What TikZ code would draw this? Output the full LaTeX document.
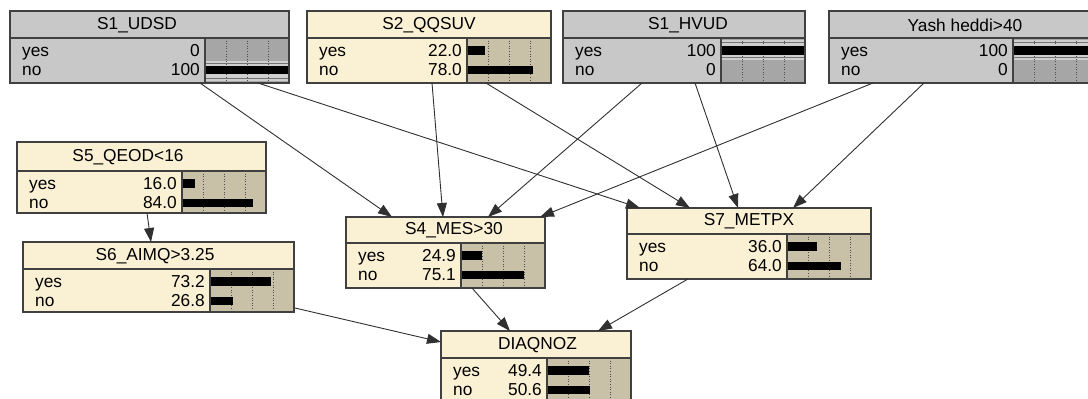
\documentclass[tikz,border=0pt]{standalone}
\usepackage{fontspec}
\setmainfont{Liberation Sans}
\usetikzlibrary{arrows.meta,calc}

\definecolor{crbody}{HTML}{FAF0D4}
\definecolor{crchart}{HTML}{C9C0A8}
\definecolor{grbody}{HTML}{C8C8C8}
\definecolor{grchart}{HTML}{A6A6A6}
\definecolor{grband}{HTML}{CFCFCF}
\definecolor{edgecol}{HTML}{404040}
\definecolor{linkcol}{HTML}{303030}

\tikzset{
  boxedge/.style={draw=edgecol, line width=1.2pt},
  gridline/.style={draw=black!70, line width=0.6pt, dotted},
  bandline/.style={draw=black!55, line width=0.7pt},
  lbl/.style={inner sep=0pt, font=\fontsize{17.3}{18}\selectfont},
  link/.style={draw=linkcol, line width=0.9pt, -{Triangle[length=14pt,width=10pt]}},
}

% Frame of a belief box: name, colour set, left, top, right, bottom, title rule, title, title shift
\newcommand{\bnode}[9]{%
  \def\bnName{#1}\def\bnLeft{#3}\def\bnTop{#4}\def\bnRight{#5}\def\bnBot{#6}\def\bnSep{#7}%
  \fill[#2body] (#3,#4) rectangle (#5,#6);
  \fill[#2chart] (#5-84,#7) rectangle (#5,#6);
  \node[lbl] (#1-title) at ({(#3+#5)/2+#9},{(#4+#7)/2+0.5}) {#8};
}

% Light band behind a full-width bar: vertical centre offset, share
\newcommand{\bnbar}[2]{%
  \ifdim #2pt>0.99pt
    \fill[grband] (\bnRight-84,\bnSep+#1-10) rectangle (\bnRight,\bnSep+#1+10);
    \draw[bandline] (\bnRight-84,\bnSep+#1-7.5) -- (\bnRight,\bnSep+#1-7.5);
    \draw[bandline] (\bnRight-84,\bnSep+#1+7.5) -- (\bnRight,\bnSep+#1+7.5);
  \fi
}
% Black bar: vertical centre offset, share
\newcommand{\bnfill}[2]{%
  \ifdim #2pt>0.001pt
    \fill[black] (\bnRight-83,\bnSep+#1-4.25) rectangle (\bnRight-84+84*#2,\bnSep+#1+4.25);
  \fi
}

% States yes/no: values and shares
\newcommand{\bnrows}[4]{%
  \bnbar{11.5}{#3}\bnbar{33}{#4}
  \foreach \g in {21,42,63}
    \draw[gridline] (\bnRight-84+\g,\bnSep) -- (\bnRight-84+\g,\bnBot);
  \bnfill{12.5}{#3}\bnfill{32}{#4}
  \node[lbl, anchor=base west] (\bnName-yl) at (\bnLeft+12,\bnSep+18.7) {yes};
  \node[lbl, anchor=base east] (\bnName-yv) at (\bnRight-89,\bnSep+18.7) {#1};
  \node[lbl, anchor=base west] (\bnName-nl) at (\bnLeft+12,\bnSep+37.2) {no};
  \node[lbl, anchor=base east] (\bnName-nv) at (\bnRight-89,\bnSep+37.2) {#2};
  \draw[boxedge] (\bnLeft,\bnSep) -- (\bnRight,\bnSep);
  \draw[boxedge] (\bnRight-84,\bnSep) -- (\bnRight-84,\bnBot);
  \node[boxedge, inner sep=0pt, outer sep=0pt, anchor=north west,
        minimum width={(\bnRight-\bnLeft)*1pt}, minimum height={(\bnBot-\bnTop)*1pt}]
        (\bnName) at (\bnLeft,\bnTop) {};
}

\begin{document}
\begin{tikzpicture}[x=1pt, y=-1pt]
\useasboundingbox (0,0) rectangle (1088,399);
\clip (0,0) rectangle (1088,399);

\bnode{udsd}{gr}{10}{11}{289}{83}{38}{S1\_UDSD}{-12.5}
\bnrows{0}{100}{0}{1.0}

\bnode{qqsuv}{cr}{307}{11}{551}{83}{38}{S2\_QQSUV}{0}
\bnrows{22.0}{78.0}{0.22}{0.78}

\bnode{hvud}{gr}{563}{11}{805}{83}{38}{S1\_HVUD}{4}
\bnrows{100}{0}{1.0}{0}

\bnode{yash}{gr}{829}{11}{1097}{83}{38}{Yash heddi>40}{2}
\bnrows{100}{0}{1.0}{0}

\bnode{qeod}{cr}{17}{142}{266}{213}{171}{S5\_QEOD<16}{-13.5}
\bnrows{16.0}{84.0}{0.16}{0.84}

\bnode{aimq}{cr}{23}{242}{294}{312}{269}{S6\_AIMQ>3.25}{-3.5}
\bnrows{73.2}{26.8}{0.732}{0.268}

\bnode{mes}{cr}{346}{217}{545}{288}{243}{S4\_MES>30}{8.5}
\bnrows{24.9}{75.1}{0.249}{0.751}

\bnode{metpx}{cr}{627}{208}{871}{279}{234}{S7\_METPX}{0}
\bnrows{36.0}{64.0}{0.36}{0.64}

\bnode{diaq}{cr}{441}{331}{631}{403}{358}{DIAQNOZ}{1.5}
\bnrows{49.4}{50.6}{0.494}{0.506}

% links between the variables
\draw[link] ($(udsd.south west)+(190,0)$) -- ($(mes.north west)+(46,0)$);
\draw[link] ($(udsd.south west)+(248,0)$) -- ($(metpx.north west)+(13,0)$);
\draw[link] ($(qqsuv.south west)+(125,0)$) -- ($(mes.north west)+(97,0)$);
\draw[link] ($(qqsuv.south west)+(179,0)$) -- ($(metpx.north west)+(63,0)$);
\draw[link] ($(hvud.south west)+(79,0)$) -- ($(mes.north west)+(142,0)$);
\draw[link] ($(hvud.south west)+(132,0)$) -- ($(metpx.north west)+(111,0)$);
\draw[link] ($(yash.south west)+(44,0)$) -- ($(mes.north east)+(-5,0)$);
\draw[link] ($(yash.south west)+(95,0)$) -- ($(metpx.north west)+(166,0)$);
\draw[link] ($(qeod.south west)+(130,0)$) -- ($(aimq.north west)+(128,0)$);
\draw[link] ($(aimq.south east)+(1,-4)$) -- ($(diaq.north west)+(0,11)$);
\draw[link] ($(mes.south west)+(126,0)$) -- ($(diaq.north west)+(69,0)$);
\draw[link] ($(metpx.south west)+(61,0)$) -- ($(diaq.north west)+(157,0)$);
\end{tikzpicture}
\end{document}
